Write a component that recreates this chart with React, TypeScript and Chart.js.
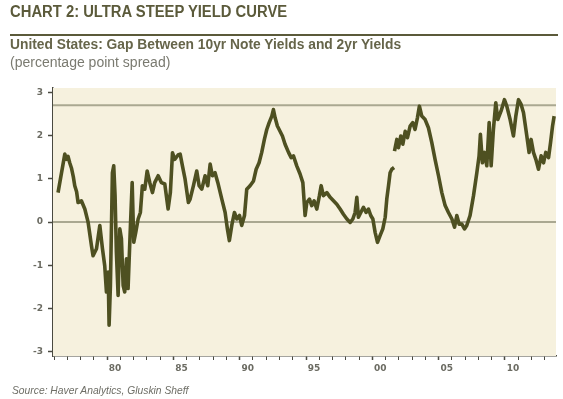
import React, { useEffect, useRef } from "react";
import { Chart, registerables } from "chart.js";

Chart.register(...registerables);

const years: number[] = [
  1976.3, 1976.81, 1976.93, 1977.05, 1977.18, 1977.31, 1977.45, 1977.56, 1977.7, 1977.81,
  1978.06, 1978.32, 1978.57, 1978.82, 1978.94, 1979.2, 1979.45, 1979.55, 1979.65, 1979.82,
  1979.95, 1980.08, 1980.15, 1980.25, 1980.4, 1980.5, 1980.6, 1980.7, 1980.83, 1980.96,
  1981.08, 1981.21, 1981.33, 1981.46, 1981.58, 1981.76, 1981.89, 1982.01, 1982.16, 1982.34,
  1982.51, 1982.66, 1982.84, 1983.02, 1983.22, 1983.42, 1983.59, 1983.85, 1984.1, 1984.35,
  1984.6, 1984.77, 1984.93, 1985.1, 1985.35, 1985.51, 1985.68, 1985.88, 1986.13, 1986.26,
  1986.51, 1986.76, 1986.94, 1987.14, 1987.39, 1987.59, 1987.77, 1987.94, 1988.14, 1988.35,
  1988.65, 1988.9, 1989.07, 1989.22, 1989.4, 1989.6, 1989.78, 1989.98, 1990.15, 1990.36,
  1990.53, 1990.78, 1991.04, 1991.24, 1991.46, 1991.66, 1991.86, 1992.04, 1992.22, 1992.42,
  1992.54, 1992.67, 1992.84, 1993.04, 1993.22, 1993.42, 1993.68, 1993.88, 1994.05, 1994.3,
  1994.55, 1994.76, 1994.93, 1995.06, 1995.26, 1995.43, 1995.61, 1995.81, 1996.01, 1996.14,
  1996.31, 1996.57, 1996.82, 1997.07, 1997.32, 1997.57, 1997.82, 1998.08, 1998.33, 1998.53,
  1998.7, 1998.83, 1998.95, 1999.13, 1999.33, 1999.53, 1999.71, 1999.88, 2000.04, 2000.21,
  2000.39, 2000.59, 2000.79, 2000.97, 2001.09, 2001.22, 2001.34, 2001.47, 2001.64, 2001.655,
  2001.67, 2001.85, 2001.97, 2002.15, 2002.3, 2002.48, 2002.65, 2002.85, 2003.05, 2003.22,
  2003.4, 2003.55, 2003.73, 2003.98, 2004.23, 2004.48, 2004.73, 2004.99, 2005.24, 2005.49,
  2005.74, 2006.0, 2006.2, 2006.37, 2006.55, 2006.75, 2006.95, 2007.12, 2007.37, 2007.63,
  2007.88, 2008.05, 2008.15, 2008.3, 2008.46, 2008.63, 2008.81, 2008.96, 2009.13, 2009.31,
  2009.46, 2009.71, 2009.96, 2010.14, 2010.39, 2010.64, 2010.82, 2011.02, 2011.22, 2011.4,
  2011.65, 2011.82, 2011.97, 2012.15, 2012.33, 2012.53, 2012.73, 2012.91, 2013.08, 2013.29,
  2013.44, 2013.59, 2013.71,
];

const spread: (number | null)[] = [
  0.68, 1.57, 1.45, 1.52, 1.37, 1.25, 1.05, 0.84, 0.7, 0.45,
  0.49, 0.3, -0.01, -0.55, -0.78, -0.62, -0.08, -0.35, -0.62, -1.01,
  -1.62, -1.16, -2.39, -1.47, 1.14, 1.3, 0.61, -0.7, -1.7, -0.16,
  -0.39, -1.47, -1.62, -0.85, -1.54, -0.08, 0.91, -0.47, -0.24, 0.07,
  0.22, 0.84, 0.76, 1.18, 0.91, 0.68, 0.91, 1.07, 0.91, 0.88,
  0.3, 0.68, 1.6, 1.45, 1.55, 1.57, 1.3, 0.99, 0.45, 0.53,
  0.84, 1.18, 0.84, 0.76, 1.07, 0.84, 1.34, 1.07, 1.14, 0.91,
  0.53, 0.22, -0.16, -0.43, -0.08, 0.22, 0.07, 0.15, -0.08, 0.15,
  0.76, 0.84, 0.95, 1.22, 1.37, 1.61, 1.91, 2.14, 2.3, 2.45,
  2.6, 2.41, 2.22, 2.1, 1.99, 1.8, 1.61, 1.49, 1.53, 1.3,
  1.11, 0.91, 0.15, 0.45, 0.53, 0.38, 0.49, 0.3, 0.61, 0.84,
  0.61, 0.68, 0.57, 0.49, 0.41, 0.3, 0.18, 0.07, -0.01, 0.07,
  0.22, 0.57, 0.11, 0.22, 0.34, 0.22, 0.3, 0.15, 0.07, -0.24,
  -0.47, -0.31, -0.16, 0.11, 0.53, 0.84, 1.14, 1.22, 1.26, null,
  1.64, 1.91, 1.72, 1.99, 1.8, 2.1, 1.95, 2.22, 2.3, 2.14,
  2.41, 2.68, 2.45, 2.37, 2.18, 1.84, 1.45, 1.07, 0.68, 0.38,
  0.22, 0.07, -0.12, 0.15, -0.05, -0.05, -0.16, -0.08, 0.15, 0.61,
  1.14, 1.53, 2.03, 1.37, 1.61, 1.3, 2.3, 1.3, 2.14, 2.76,
  2.37, 2.57, 2.83, 2.68, 2.37, 1.99, 2.45, 2.83, 2.72, 2.53,
  1.99, 1.61, 1.91, 1.61, 1.45, 1.22, 1.53, 1.37, 1.61, 1.49,
  1.84, 2.22, 2.45,
];

const yTicks: number[] = [-3, -2, -1, 0, 1, 2, 3];
const xTickYears: number[] = Array.from({ length: 38 }, (_, i) => 1976 + i);
const refLines: number[] = [0, 2.7];

const LINE = "#4e5021";
const BG = "#f6f1de";
const REF = "#aaa891";
const AXIS = "#4a4a40";

export default function App() {
  const canvasRef = useRef<HTMLCanvasElement | null>(null);

  useEffect(() => {
    const canvas = canvasRef.current;
    if (!canvas) return;

    const bgPlugin = {
      id: "bgAndRefs",
      beforeDatasetsDraw(chart: any) {
        const { ctx, chartArea, scales } = chart;
        ctx.save();
        ctx.fillStyle = BG;
        ctx.fillRect(chartArea.left, chartArea.top, chartArea.right - chartArea.left, chartArea.bottom - chartArea.top);
        ctx.strokeStyle = REF;
        ctx.lineWidth = 2;
        refLines.forEach((v) => {
          const y = scales.y.getPixelForValue(v);
          ctx.beginPath();
          ctx.moveTo(chartArea.left, y);
          ctx.lineTo(chartArea.right, y);
          ctx.stroke();
        });
        ctx.restore();
      },
    };

    const chart = new Chart(canvas, {
      type: "line",
      data: {
        datasets: [
          {
            data: years.map((x, i) => ({ x, y: spread[i] })),
            borderColor: LINE,
            borderWidth: 3.6,
            pointRadius: 0,
            tension: 0,
            spanGaps: false,
            borderJoinStyle: "round",
          },
        ],
      },
      options: {
        animation: false,
        responsive: false,
        devicePixelRatio: 1,
        layout: { padding: { left: 0, top: 88, right: 7, bottom: 0 } },
        plugins: { legend: { display: false }, tooltip: { enabled: false } },
        scales: {
          x: {
            type: "linear",
            min: 1975.92,
            max: 2013.85,
            afterBuildTicks: (scale: any) => {
              scale.ticks = xTickYears.map((v) => ({ value: v }));
            },
            afterFit: (scale: any) => {
              scale.height = 43;
            },
            border: { display: true, color: AXIS, width: 1.5 },
            grid: {
              display: true,
              drawOnChartArea: false,
              drawTicks: true,
              tickLength: 4,
              tickColor: AXIS,
              tickWidth: (ctx: any) => (ctx.tick && ctx.tick.value % 5 === 0 ? 1.5 : 1),
            },
            ticks: {
              autoSkip: false,
              maxRotation: 0,
              minRotation: 0,
              labelOffset: 8,
              padding: 3,
              color: "#6b6b62",
              font: { family: "DejaVu Sans", size: 9, weight: "bold" },
              callback: (v: any) => {
                const n = Number(v);
                return n % 5 === 0 ? String(n % 100).padStart(2, "0") : "";
              },
            },
          },
          y: {
            type: "linear",
            min: -3.1,
            max: 3.1,
            afterBuildTicks: (scale: any) => {
              scale.ticks = yTicks.map((v) => ({ value: v }));
            },
            afterFit: (scale: any) => {
              scale.width = 53;
            },
            border: { display: true, color: AXIS, width: 1.5 },
            grid: {
              display: true,
              drawOnChartArea: false,
              drawTicks: true,
              tickLength: 5,
              tickColor: AXIS,
              tickWidth: 1.5,
            },
            ticks: {
              padding: 5,
              color: "#6b6b62",
              font: { family: "DejaVu Sans", size: 9, weight: "bold" },
              callback: (v: any) => String(v),
            },
          },
        },
      },
      plugins: [bgPlugin],
    });

    return () => chart.destroy();
  }, []);

  return (
    <div style={{ position: "fixed", left: 0, top: 0, width: 563, height: 399, background: "#ffffff", overflow: "hidden" }}>
      <canvas ref={canvasRef} width={563} height={399} style={{ position: "absolute", left: 0, top: 0, width: 563, height: 399 }} />
      <div
        style={{
          position: "absolute",
          left: 10,
          top: 3,
          fontFamily: "'Liberation Sans', sans-serif",
          fontWeight: "bold",
          fontSize: 16,
          color: "#5b5a3a",
          whiteSpace: "nowrap",
          lineHeight: "18px",
          transform: "scaleX(0.925)",
          transformOrigin: "left top",
        }}
      >
        CHART 2: ULTRA STEEP YIELD CURVE
      </div>
      <div style={{ position: "absolute", left: 10, top: 34, width: 548, height: 2, background: "#5b5a3a" }} />
      <div
        style={{
          position: "absolute",
          left: 10,
          top: 37,
          fontFamily: "'Liberation Sans', sans-serif",
          fontWeight: "bold",
          fontSize: 13.8,
          color: "#66654a",
          whiteSpace: "nowrap",
          lineHeight: "15px",
        }}
      >
        United States: Gap Between 10yr Note Yields and 2yr Yields
      </div>
      <div
        style={{
          position: "absolute",
          left: 10,
          top: 54,
          fontFamily: "'Liberation Sans', sans-serif",
          fontSize: 14,
          color: "#7a7a70",
          whiteSpace: "nowrap",
          lineHeight: "16px",
        }}
      >
        (percentage point spread)
      </div>
      <div
        style={{
          position: "absolute",
          left: 12,
          top: 385,
          fontFamily: "'Liberation Sans', sans-serif",
          fontStyle: "italic",
          fontSize: 10.3,
          color: "#6e6e66",
          whiteSpace: "nowrap",
          lineHeight: "12px",
        }}
      >
        Source: Haver Analytics, Gluskin Sheff
      </div>
    </div>
  );
}
